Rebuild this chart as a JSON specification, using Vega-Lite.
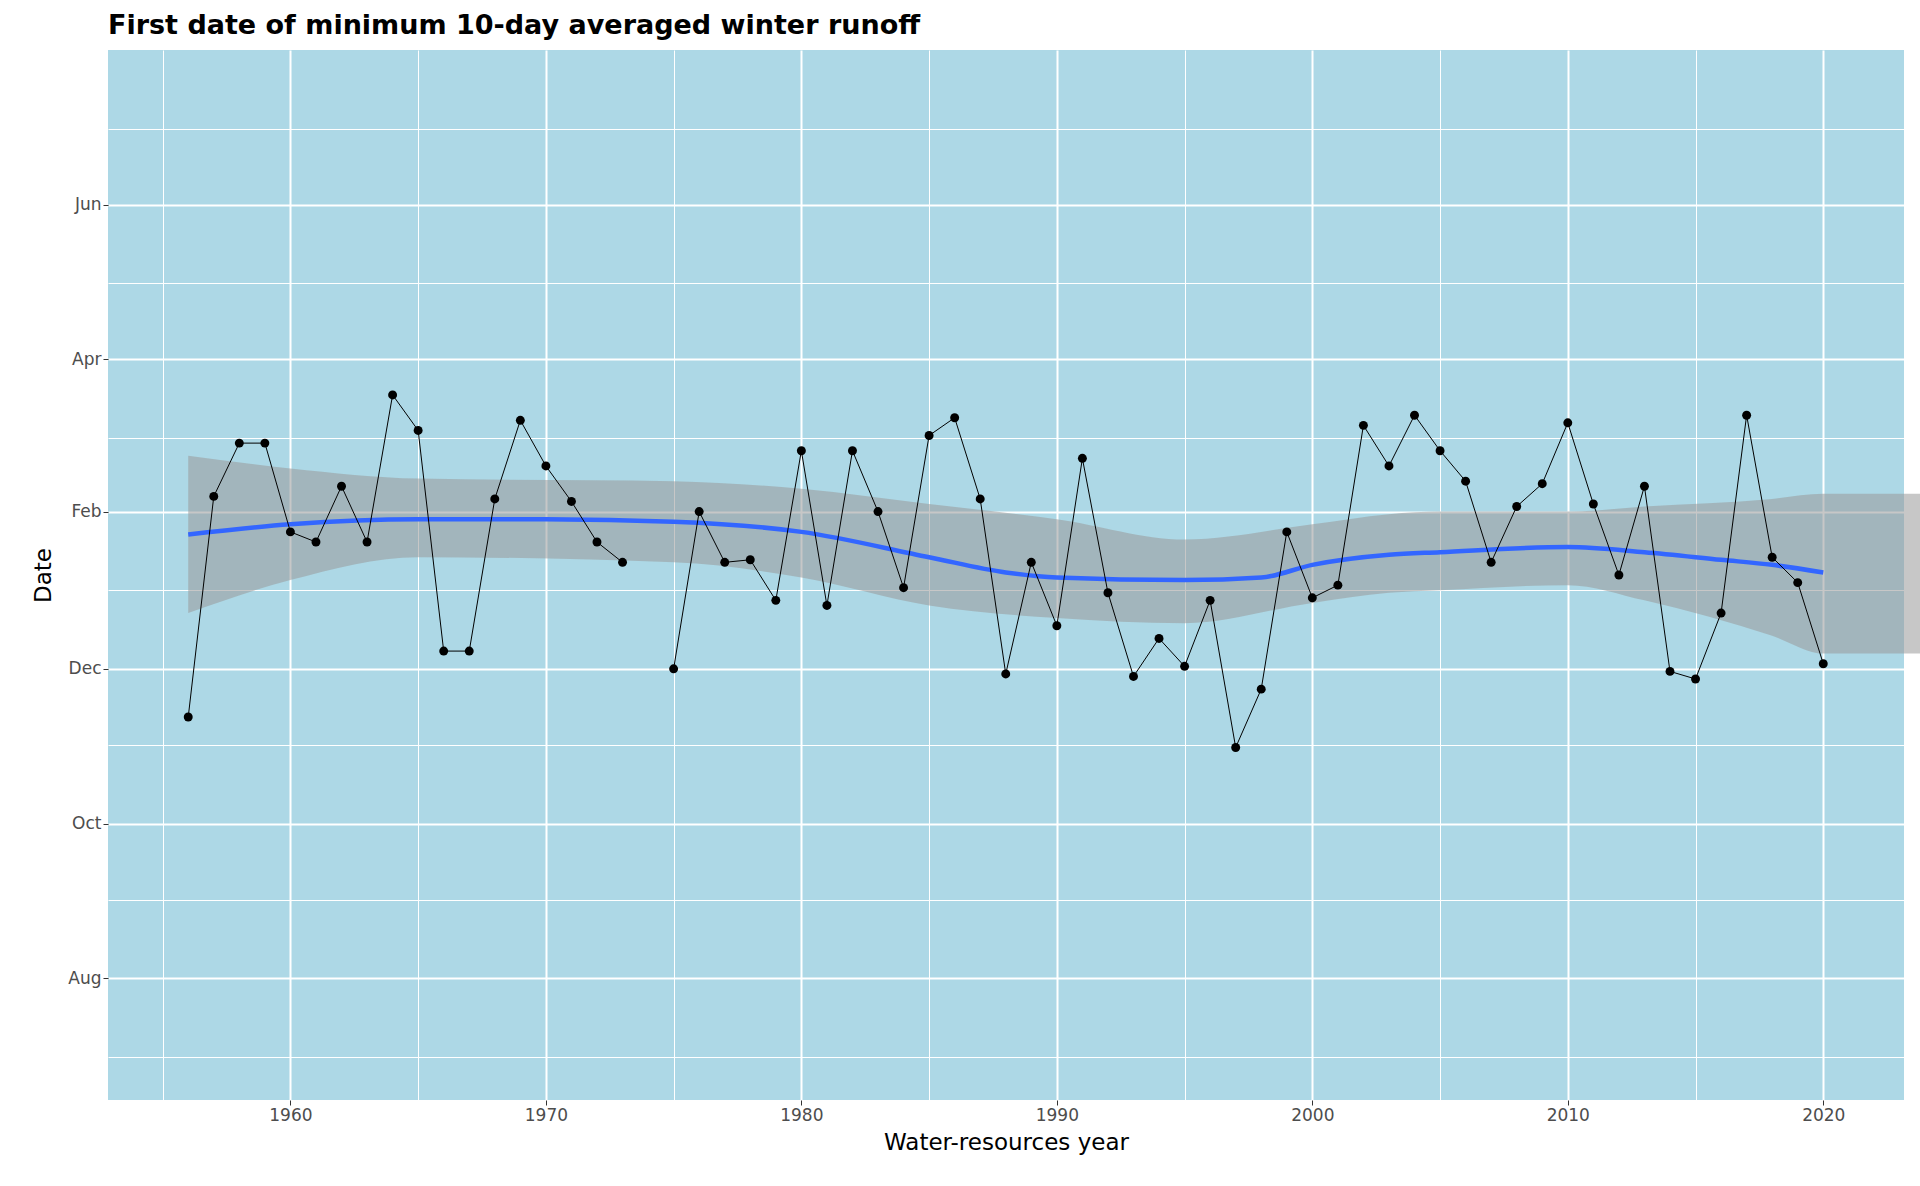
{
  "$schema": "https://vega.github.io/schema/vega-lite/v6.json",
  "width": 1796,
  "height": 1050,
  "autosize": {"type": "none"},
  "padding": {"left": 108, "top": 50, "right": 16, "bottom": 86},
  "background": "white",
  "title": {"text": "First date of minimum 10-day averaged winter runoff", "anchor": "start", "frame": "group", "fontSize": 27, "fontWeight": "bold", "font": "DejaVu Sans", "color": "black", "offset": 10},
  "config": {
    "view": {"fill": "#ADD8E6", "stroke": null},
    "axis": {"labelFont": "DejaVu Sans", "titleFont": "DejaVu Sans", "labelFontSize": 17, "titleFontSize": 23, "titleFontWeight": "normal", "labelColor": "#4D4D4D", "titleColor": "black", "gridColor": "white", "tickColor": "#333333", "domain": false, "tickSize": 5}
  },
  "datasets": {
    "obs": [
      {"year": 1956, "date": "1999-11-12"}, {"year": 1957, "date": "2000-02-07"}, {"year": 1958, "date": "2000-02-28"},
      {"year": 1959, "date": "2000-02-28"}, {"year": 1960, "date": "2000-01-24"}, {"year": 1961, "date": "2000-01-20"},
      {"year": 1962, "date": "2000-02-11"}, {"year": 1963, "date": "2000-01-20"}, {"year": 1964, "date": "2000-03-18"},
      {"year": 1965, "date": "2000-03-04"}, {"year": 1966, "date": "1999-12-08"}, {"year": 1967, "date": "1999-12-08"},
      {"year": 1968, "date": "2000-02-06"}, {"year": 1969, "date": "2000-03-08"}, {"year": 1970, "date": "2000-02-19"},
      {"year": 1971, "date": "2000-02-05"}, {"year": 1972, "date": "2000-01-20"}, {"year": 1973, "date": "2000-01-12"},
      {"year": 1974, "date": null},
      {"year": 1975, "date": "1999-12-01"}, {"year": 1976, "date": "2000-02-01"}, {"year": 1977, "date": "2000-01-12"},
      {"year": 1978, "date": "2000-01-13"}, {"year": 1979, "date": "1999-12-28"}, {"year": 1980, "date": "2000-02-25"},
      {"year": 1981, "date": "1999-12-26"}, {"year": 1982, "date": "2000-02-25"}, {"year": 1983, "date": "2000-02-01"},
      {"year": 1984, "date": "2000-01-02"}, {"year": 1985, "date": "2000-03-02"}, {"year": 1986, "date": "2000-03-09"},
      {"year": 1987, "date": "2000-02-06"}, {"year": 1988, "date": "1999-11-29"}, {"year": 1989, "date": "2000-01-12"},
      {"year": 1990, "date": "1999-12-18"}, {"year": 1991, "date": "2000-02-22"}, {"year": 1992, "date": "1999-12-31"},
      {"year": 1993, "date": "1999-11-28"}, {"year": 1994, "date": "1999-12-13"}, {"year": 1995, "date": "1999-12-02"},
      {"year": 1996, "date": "1999-12-28"}, {"year": 1997, "date": "1999-10-31"}, {"year": 1998, "date": "1999-11-23"},
      {"year": 1999, "date": "2000-01-24"}, {"year": 2000, "date": "1999-12-29"}, {"year": 2001, "date": "2000-01-03"},
      {"year": 2002, "date": "2000-03-06"}, {"year": 2003, "date": "2000-02-19"}, {"year": 2004, "date": "2000-03-10"},
      {"year": 2005, "date": "2000-02-25"}, {"year": 2006, "date": "2000-02-13"}, {"year": 2007, "date": "2000-01-12"},
      {"year": 2008, "date": "2000-02-03"}, {"year": 2009, "date": "2000-02-12"}, {"year": 2010, "date": "2000-03-07"},
      {"year": 2011, "date": "2000-02-04"}, {"year": 2012, "date": "2000-01-07"}, {"year": 2013, "date": "2000-02-11"},
      {"year": 2014, "date": "1999-11-30"}, {"year": 2015, "date": "1999-11-27"}, {"year": 2016, "date": "1999-12-23"},
      {"year": 2017, "date": "2000-03-10"}, {"year": 2018, "date": "2000-01-14"}, {"year": 2019, "date": "2000-01-04"},
      {"year": 2020, "date": "1999-12-03"}
    ],
    "smooth": [
      {"year": 1956, "fit": "2000-01-23", "lo": "1999-12-23", "hi": "2000-02-23"},
      {"year": 1960, "fit": "2000-01-27", "lo": "2000-01-05", "hi": "2000-02-18"},
      {"year": 1965, "fit": "2000-01-29", "lo": "2000-01-14", "hi": "2000-02-14"},
      {"year": 1970, "fit": "2000-01-29", "lo": "2000-01-14", "hi": "2000-02-14"},
      {"year": 1975, "fit": "2000-01-28", "lo": "2000-01-12", "hi": "2000-02-13"},
      {"year": 1980, "fit": "2000-01-24", "lo": "2000-01-06", "hi": "2000-02-10"},
      {"year": 1985, "fit": "2000-01-14", "lo": "1999-12-26", "hi": "2000-02-04"},
      {"year": 1988, "fit": "2000-01-08", "lo": "1999-12-23", "hi": "2000-02-01"},
      {"year": 1990, "fit": "2000-01-06", "lo": "1999-12-21", "hi": "2000-01-29"},
      {"year": 1995, "fit": "2000-01-05", "lo": "1999-12-19", "hi": "2000-01-21"},
      {"year": 1998, "fit": "2000-01-06", "lo": "1999-12-23", "hi": "2000-01-22"},
      {"year": 2000, "fit": "2000-01-11", "lo": "1999-12-27", "hi": "2000-01-27"},
      {"year": 2003, "fit": "2000-01-15", "lo": "1999-12-31", "hi": "2000-01-31"},
      {"year": 2005, "fit": "2000-01-16", "lo": "2000-01-01", "hi": "2000-02-01"},
      {"year": 2010, "fit": "2000-01-18", "lo": "2000-01-03", "hi": "2000-02-01"},
      {"year": 2013, "fit": "2000-01-16", "lo": "1999-12-28", "hi": "2000-02-03"},
      {"year": 2016, "fit": "2000-01-13", "lo": "1999-12-19", "hi": "2000-02-05"},
      {"year": 2018, "fit": "2000-01-11", "lo": "1999-12-14", "hi": "2000-02-06"},
      {"year": 2020, "fit": "2000-01-08", "lo": "1999-12-07", "hi": "2000-02-08"}
    ]
  },
  "encoding": {
    "x": {
      "field": "year", "type": "quantitative", "title": "Water-resources year",
      "scale": {"domain": [1952.86, 2023.16], "nice": false, "zero": false},
      "axis": {
        "values": [1955, 1960, 1965, 1970, 1975, 1980, 1985, 1990, 1995, 2000, 2005, 2010, 2015, 2020],
        "format": "d",
        "labelExpr": "datum.value % 10 === 0 ? datum.label : ''",
        "gridWidth": {"expr": "datum.value % 10 === 0 ? 2 : 1"},
        "tickOpacity": {"expr": "datum.value % 10 === 0 ? 1 : 0"},
        "titlePadding": 8
      }
    }
  },
  "layer": [
    {
      "data": {"name": "smooth"},
      "mark": {"type": "area", "orient": "vertical", "color": "#999999", "opacity": 0.55, "interpolate": "monotone"},
      "encoding": {
        "y": {"field": "lo", "type": "temporal", "title": "Date",
          "scale": {"type": "utc", "domain": ["1999-06-14", "2000-08-01"], "nice": false},
          "axis": {
            "values": ["1999-07-01", "1999-08-01", "1999-09-01", "1999-10-01", "1999-11-01", "1999-12-01", "2000-01-01", "2000-02-01", "2000-03-01", "2000-04-01", "2000-05-01", "2000-06-01", "2000-07-01"],
            "labelExpr": "utcmonth(datum.value) % 2 === 1 ? utcFormat(datum.value, '%b') : ''",
            "gridWidth": {"expr": "utcmonth(datum.value) % 2 === 1 ? 2 : 1"},
            "tickOpacity": {"expr": "utcmonth(datum.value) % 2 === 1 ? 1 : 0"},
            "titlePadding": 12
          }
        },
        "y2": {"field": "hi"}
      }
    },
    {
      "data": {"name": "smooth"},
      "mark": {"type": "line", "orient": "vertical", "color": "#3366FF", "strokeWidth": 4.5, "interpolate": "monotone"},
      "encoding": {"y": {"field": "fit", "type": "temporal"}, "order": {"field": "year"}}
    },
    {
      "data": {"name": "obs"},
      "mark": {"type": "line", "orient": "vertical", "color": "black", "strokeWidth": 1},
      "encoding": {"y": {"field": "date", "type": "temporal"}, "order": {"field": "year"}}
    },
    {
      "data": {"name": "obs"},
      "mark": {"type": "point", "filled": true, "color": "black", "opacity": 1, "size": 80},
      "encoding": {"y": {"field": "date", "type": "temporal"}}
    }
  ]
}
